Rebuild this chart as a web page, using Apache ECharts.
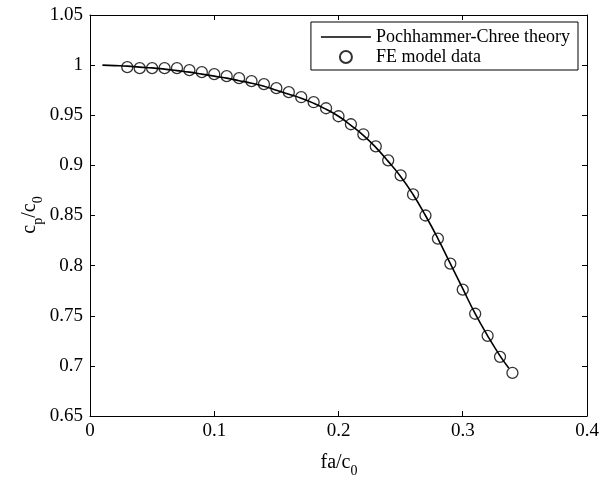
<!DOCTYPE html>
<html>
<head>
<meta charset="utf-8">
<script src="https://cdn.jsdelivr.net/npm/echarts@6/dist/echarts.min.js"></script>
<style>html,body{margin:0;padding:0;background:#fff}#c{width:602px;height:483px}</style>
</head>
<body>
<div id="c"></div>
<script>
var theoryX = [0.01,0.02,0.03,0.04,0.05,0.06,0.07,0.08,0.09,0.10,0.11,0.12,0.13,0.14,0.15,0.16,0.17,0.18,0.19,0.20,0.21,0.22,0.23,0.24,0.25,0.26,0.27,0.28,0.29,0.30,0.31,0.32,0.33,0.337];
var theoryY = [1.000,0.9995,0.999,0.998,0.9973,0.996,0.9945,0.993,0.991,0.989,0.987,0.9845,0.982,0.979,0.975,0.971,0.967,0.962,0.956,0.949,0.940,0.930,0.918,0.904,0.889,0.871,0.850,0.827,0.802,0.777,0.752,0.730,0.710,0.698];
var feX = [0.03,0.04,0.05,0.06,0.07,0.08,0.09,0.10,0.11,0.12,0.13,0.14,0.15,0.16,0.17,0.18,0.19,0.20,0.21,0.22,0.23,0.24,0.25,0.26,0.27,0.28,0.29,0.30,0.31,0.32,0.33,0.34];
var feY = [0.998,0.997,0.997,0.997,0.997,0.995,0.993,0.991,0.989,0.987,0.984,0.981,0.977,0.973,0.968,0.963,0.957,0.949,0.941,0.931,0.919,0.905,0.890,0.871,0.850,0.827,0.802,0.776,0.752,0.730,0.709,0.693];
var xTicks = {min:0, max:0.4, interval:0.1};
var yTicks = {min:0.65, max:1.05, interval:0.05};
var legendNames = ['Pochhammer-Chree theory','FE model data'];

var FONT = '"Liberation Serif", "Times New Roman", serif';
var cv = document.createElement('canvas').getContext('2d');
function tw(t, s){ cv.font = s + 'px ' + FONT; return cv.measureText(t).width; }

var theory = theoryX.map(function(x,i){return [x, theoryY[i]];});
var fe = feX.map(function(x,i){return [x, feY[i]];});

var chart = echarts.init(document.getElementById('c'), null, {renderer:'canvas'});
var axisCommon = {
  axisLine:{show:true, onZero:false, lineStyle:{color:'#000', width:1}},
  axisTick:{show:true, inside:true, length:5, lineStyle:{color:'#000', width:1}},
  splitLine:{show:false}
};
function fmt(v){ return String(+(+v).toFixed(2)); }
var labelStyle = {color:'#000', fontFamily:FONT, fontSize:19};

var MS = 20, SS = 14;
var xw1 = tw('fa/c', MS), xw2 = tw('0', SS);
var xStart = 339 - (xw1 + xw2)/2;
var y1 = tw('c', MS), y2 = tw('p', SS), y3 = tw('/c', MS), y4 = tw('0', SS);
var yTot = y1 + y2 + y3 + y4;

chart.setOption({
  animation:false,
  backgroundColor:'#fff',
  grid:{left:90, right:15, top:15, bottom:67, containLabel:false},
  legend:{
    data:[{name:legendNames[0], icon:'path://M0,0 L60,0 L60,2 L0,2 Z', itemStyle:{color:'#000'}}, {name:legendNames[1]}],
    orient:'vertical',
    right:24, top:22,
    borderColor:'#000', borderWidth:1, borderRadius:0,
    padding:[6,8,4,10],
    itemWidth:50, itemHeight:12, itemGap:2,
    symbolKeepAspect:true,
    backgroundColor:'#fff',
    textStyle:{color:'#000', fontFamily:FONT, fontSize:18},
    selectedMode:false
  },
  xAxis:[
    Object.assign({type:'value', position:'bottom', min:xTicks.min, max:xTicks.max, interval:xTicks.interval,
      axisLabel:Object.assign({formatter:fmt, margin:6}, labelStyle)}, axisCommon),
    Object.assign({type:'value', position:'top', min:xTicks.min, max:xTicks.max, interval:xTicks.interval,
      axisLabel:{show:false}}, axisCommon)
  ],
  yAxis:[
    Object.assign({type:'value', position:'left', min:yTicks.min, max:yTicks.max, interval:yTicks.interval,
      axisLabel:Object.assign({formatter:fmt, margin:7}, labelStyle)}, axisCommon),
    Object.assign({type:'value', position:'right', min:yTicks.min, max:yTicks.max, interval:yTicks.interval,
      axisLabel:{show:false}}, axisCommon)
  ],
  series:[
    {name:legendNames[0], type:'line', data:theory, symbol:'none', smooth:true,
      lineStyle:{color:'#000', width:1.6}, itemStyle:{color:'#000'}, z:2},
    {name:legendNames[1], type:'scatter', data:fe, symbol:'circle', symbolSize:11,
      itemStyle:{color:'rgba(0,0,0,0)', borderColor:'#000', borderWidth:1.3}, z:3}
  ],
  graphic:[
    {type:'group', children:[
      {type:'text', x:xStart, y:463, style:{text:'fa/c', font:MS+'px '+FONT, fill:'#000', verticalAlign:'middle', align:'left'}},
      {type:'text', x:xStart + xw1, y:471, style:{text:'0', font:SS+'px '+FONT, fill:'#000', verticalAlign:'middle', align:'left'}}
    ]},
    {type:'group', x:30, y:215 + yTot/2, rotation:Math.PI/2, children:[
      {type:'text', x:0, y:0, style:{text:'c', font:MS+'px '+FONT, fill:'#000', verticalAlign:'middle', align:'left'}},
      {type:'text', x:y1, y:8, style:{text:'p', font:SS+'px '+FONT, fill:'#000', verticalAlign:'middle', align:'left'}},
      {type:'text', x:y1+y2, y:0, style:{text:'/c', font:MS+'px '+FONT, fill:'#000', verticalAlign:'middle', align:'left'}},
      {type:'text', x:y1+y2+y3, y:8, style:{text:'0', font:SS+'px '+FONT, fill:'#000', verticalAlign:'middle', align:'left'}}
    ]}
  ]
});
</script>
</body>
</html>
